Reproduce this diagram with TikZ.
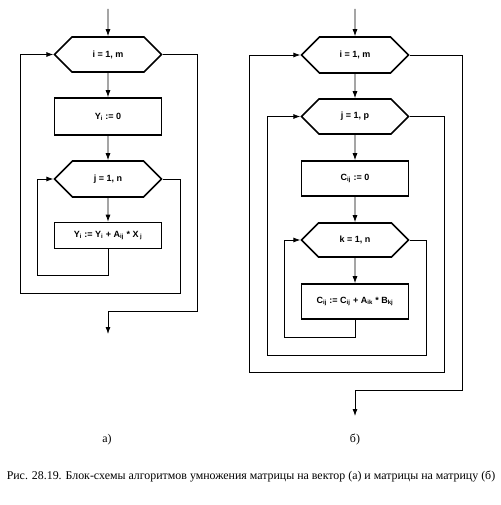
\documentclass[tikz,border=0pt]{standalone}
\usepackage{fontspec}
\setmainfont{Liberation Serif}
\newfontfamily\flowfont{Liberation Sans}
\usetikzlibrary{shapes.symbols,arrows.meta}
\pgfdeclarelayer{nodelayer}
\pgfdeclarelayer{edgelayer}
\pgfsetlayers{edgelayer,nodelayer,main}
\tikzstyle{box}=[fill=white, draw=black, line width=1.6pt, shape=rectangle, minimum width=107pt, minimum height=36pt, inner sep=0pt, font=\flowfont\bfseries\fontsize{9}{11}\selectfont]
\tikzstyle{loop}=[box, shape=signal, signal to=west and east, signal pointer angle=90]
\tikzstyle{directed edge}=[-{Latex[length=7pt,width=5pt]}, line width=0.8pt]
\tikzstyle{label}=[font=\fontsize{11.9}{14}\selectfont]

\begin{document}
\begin{tikzpicture}[x=1pt, y=-1pt]
	\useasboundingbox (0,0) rectangle (500,505);
	\begin{pgfonlayer}{nodelayer}
		% a)
		\node [style=loop, minimum height=35pt] (0) at (108, 54.5) {i = 1, m};
		\node [style=box, minimum height=37pt] (1) at (108, 116.5) {Y\textsubscript{i} := 0};
		\node [style=loop] (2) at (108, 179) {j = 1, n};
		\node [style=box, minimum height=26pt] (3) at (108, 235.5) {Y\textsubscript{i} := Y\textsubscript{i} + A\textsubscript{ij} * X\,\textsubscript{j}};
		\coordinate (a0) at (108, 9);
		\coordinate (a1) at (37, 275);
		\coordinate (a2) at (180, 293);
		\coordinate (a3) at (20, 293);
		\coordinate (a4) at (197, 311);
		\coordinate (a5) at (108, 334);
		% b)
		\node [style=loop] (4) at (355, 55) {i = 1, m};
		\node [style=loop, minimum height=35pt] (5) at (355, 116.5) {j = 1, p};
		\node [style=box, minimum height=35pt] (6) at (355, 178.5) {C\textsubscript{ij} := 0};
		\node [style=loop, minimum height=34pt] (7) at (355, 240) {k = 1, n};
		\node [style=box, minimum height=35pt] (8) at (355, 301.5) {C\textsubscript{ij} := C\textsubscript{ij} + A\textsubscript{ik} * B\textsubscript{kj}};
		\coordinate (b0) at (355, 9);
		\coordinate (b1) at (284, 337);
		\coordinate (b2) at (426, 355);
		\coordinate (b3) at (267, 355);
		\coordinate (b4) at (444, 372);
		\coordinate (b5) at (249, 372);
		\coordinate (b6) at (462, 390);
		\coordinate (b7) at (355, 416);
		% labels
		\node [style=label] (9) at (107, 440) {а)};
		\node [style=label] (10) at (355, 440) {б)};
		\node [style=label] (11) at (251, 477) {Рис. 28.19. Блок-схемы алгоритмов умножения матрицы на вектор (а) и матрицы на матрицу (б)};
	\end{pgfonlayer}
	\begin{pgfonlayer}{edgelayer}
		\draw [style=directed edge] (a0) to (0);
		\draw [style=directed edge] (0) to (1);
		\draw [style=directed edge] (1) to (2);
		\draw [style=directed edge] (2) to (3);
		\draw [style=directed edge] (3.south) |- (a1) |- (2.west);
		\draw [style=directed edge] (2.east) -| (a2) -- (a3) |- (0.west);
		\draw [style=directed edge] (0.east) -| (a4) -| (a5);
		\draw [style=directed edge] (b0) to (4);
		\draw [style=directed edge] (4) to (5);
		\draw [style=directed edge] (5) to (6);
		\draw [style=directed edge] (6) to (7);
		\draw [style=directed edge] (7) to (8);
		\draw [style=directed edge] (8.south) |- (b1) |- (7.west);
		\draw [style=directed edge] (7.east) -| (b2) -- (b3) |- (5.west);
		\draw [style=directed edge] (5.east) -| (b4) -- (b5) |- (4.west);
		\draw [style=directed edge] (4.east) -| (b6) -| (b7);
	\end{pgfonlayer}
\end{tikzpicture}
\end{document}
